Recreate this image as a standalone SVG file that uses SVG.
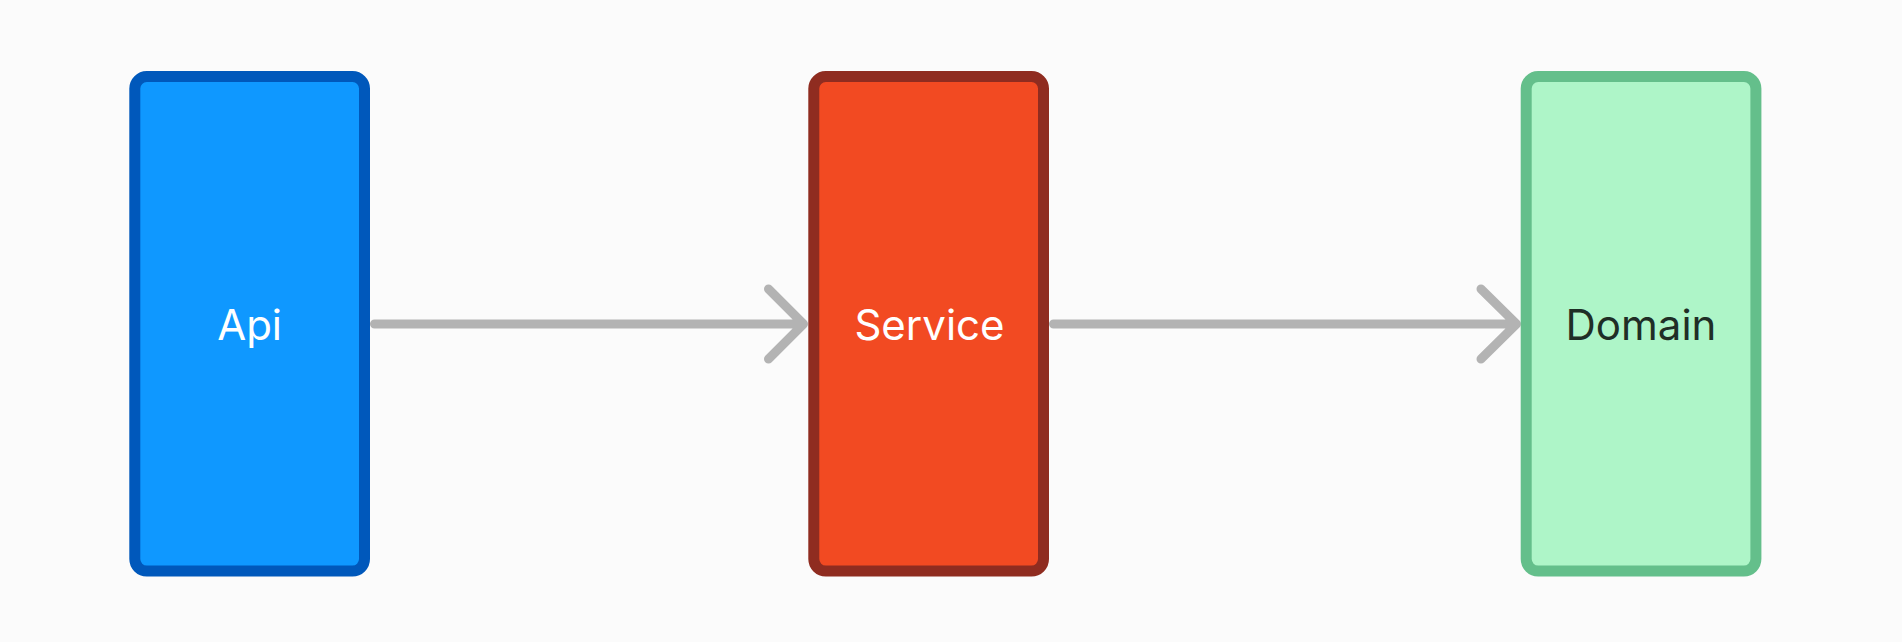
<svg xmlns="http://www.w3.org/2000/svg" width="1902" height="642" viewBox="0 0 1902 642">
<style>
.box{stroke-width:11}
.lbl{font-family:Inter,"Noto Sans",sans-serif;font-size:42px;text-anchor:middle}
.edge{fill:none;stroke:#b3b3b3;stroke-width:9;stroke-linecap:round;stroke-linejoin:round}
</style>
<rect width="1902" height="642" fill="#fbfbfb"/>
<g id="connectors">
<path class="edge" d="M374.5,324 H803.5 M768.5,289 L803.5,324 L768.5,359"/>
<path class="edge" d="M1053.5,324 H1516.5 M1481,289 L1516.5,324 L1481,359"/>
</g>
<g id="api">
<rect class="box" x="134.8" y="76.5" width="229.7" height="494.6" rx="12" fill="#0f98ff" stroke="#0058bb"/>
<text class="lbl" x="249.6" y="339.5" fill="#ffffff">Api</text>
</g>
<g id="service">
<rect class="box" x="813.8" y="76.5" width="229.7" height="494.6" rx="12" fill="#f24a22" stroke="#8f2c20"/>
<text class="lbl" x="929.5" y="339.5" fill="#ffffff">Service</text>
</g>
<g id="domain">
<rect class="box" x="1526.2" y="76.5" width="229.7" height="494.6" rx="12" fill="#aef5c8" stroke="#64bf8b"/>
<text class="lbl" x="1641" y="339.5" fill="#1f2e26">Domain</text>
</g>
</svg>
